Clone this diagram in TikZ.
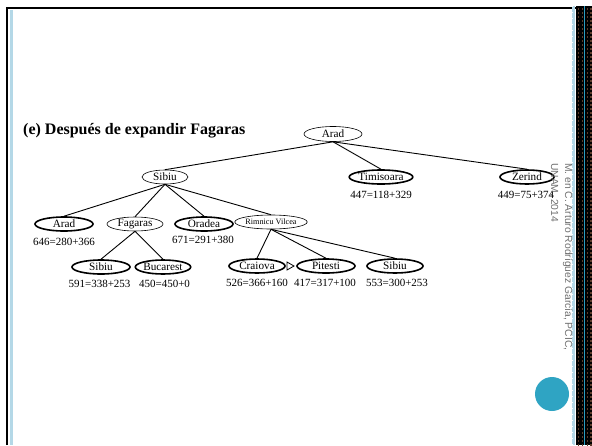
\documentclass[tikz,border=0pt]{standalone}
\usepackage{fontspec}
\setmainfont{Liberation Serif}
\newfontfamily\sansf{Liberation Sans}
\usetikzlibrary{shapes.geometric}
\definecolor{lblue}{HTML}{B4D8E7}
\definecolor{teal1}{HTML}{2FA4C3}
\definecolor{brownd}{HTML}{5B3B2A}
\definecolor{stripblue}{HTML}{2A9CC0}
\definecolor{sidegray}{HTML}{707070}
\begin{document}
\begin{tikzpicture}[x=1pt,y=-1pt,
  open/.style={ellipse,draw,line width=0.6pt,inner sep=0pt,minimum width=54pt,minimum height=14pt,font=\fontsize{11.2}{12}\selectfont},
  closed/.style={open,line width=1.6pt},
  cost/.style={font=\fontsize{11}{12}\selectfont,inner sep=0pt},
  edge/.style={line width=0.9pt}]
\useasboundingbox (0,0) rectangle (592,445);
% frame
\draw[line width=2pt] (7,445) -- (7,8) -- (577,8);
\draw[lblue,line width=2.5pt] (11.5,10) -- (11.5,445);
\draw[lblue,line width=3pt] (573.5,6) -- (573.5,445);
\draw[white,line width=0.8pt,dash pattern=on 1pt off 5pt] (572.5,6) -- (572.5,445);
\fill[black] (576,6) rectangle (592,445);
\foreach \y in {8,12,...,444} {\foreach \x in {577.5,581.5,586.5,590} {\fill[brownd] (\x,\y) rectangle ++(1.5,1.5);}}
\draw[stripblue,line width=1pt] (584,6) -- (584,445);
% title
\node[anchor=west,inner sep=0pt,font=\bfseries\fontsize{16}{18}\selectfont] (title) at (23,131) {(e) Después de expandir Fagaras};
% tree
\node[open,minimum width=58pt,minimum height=15pt] (arad) at (333,134) {Arad};
\node[open,minimum width=46pt] (sibiu) at (165,177) {Sibiu};
\node[closed] (timi) at (381,177) {Timisoara};
\node[closed] (zer) at (527,177) {Zerind};
\node[cost] (ctimi) at (381,195) {447=118+329};
\node[cost] (czer) at (526,195) {449=75+374};
\node[closed,minimum width=58pt] (arad2) at (64,224) {Arad};
\node[open,minimum width=56pt] (fag) at (135,224) {Fagaras};
\node[closed,minimum width=58pt] (ora) at (204,224) {Oradea};
\node[open,minimum width=58pt,font=\fontsize{8.2}{9}\selectfont] (rv) at (271,222) {Rimnicu Vilcea};
\node[cost] (carad2) at (64,242) {646=280+366};
\node[cost] (cora) at (203,240) {671=291+380};
\node[closed,minimum width=58pt] (sib3) at (101,267) {Sibiu};
\node[closed,minimum width=50pt] (buc) at (163,267) {Bucarest};
\node[closed,minimum width=56pt] (cra) at (257,266) {Craiova};
\node[closed,minimum width=58pt] (pit) at (326,266) {Pitesti};
\node[closed,minimum width=56pt] (sib4) at (395,266) {Sibiu};
\node[cost] (csib3) at (99.5,284) {591=338+253};
\node[cost] (cbuc) at (164.5,284) {450=450+0};
\node[cost] (ccra) at (257,283) {526=366+160};
\node[cost] (cpit) at (325,283) {417=317+100};
\node[cost] (csib4) at (397,283) {553=300+253};
\draw[line width=0.8pt] (287,262) -- (294,266) -- (287,270) -- cycle;
% edges
\draw[edge] (arad.south) -- (sibiu.north);
\draw[edge] (arad.south) -- (timi.north);
\draw[edge] (arad.south) -- (zer.north);
\draw[edge] (sibiu.south) -- (arad2.north);
\draw[edge] (sibiu.south) -- (fag.north);
\draw[edge] (sibiu.south) -- (ora.north);
\draw[edge] (sibiu.south) -- (rv.north);
\draw[edge] (fag.south) -- (sib3.north);
\draw[edge] (fag.south) -- (buc.north);
\draw[edge] (rv.south) -- (cra.north);
\draw[edge] (rv.south) -- (pit.north);
\draw[edge] (rv.south) -- (sib4.north);
% side text
\node[rotate=-90,anchor=north west,align=left,inner sep=0pt,text=sidegray,font=\sansf\fontsize{10.3}{14}\selectfont] (author) at (573,163) {M. en C. Arturo Rodríguez García, PCIC,\\UNAM, 2014};
\fill[teal1] (552,394) circle (17);
\end{tikzpicture}
\end{document}
